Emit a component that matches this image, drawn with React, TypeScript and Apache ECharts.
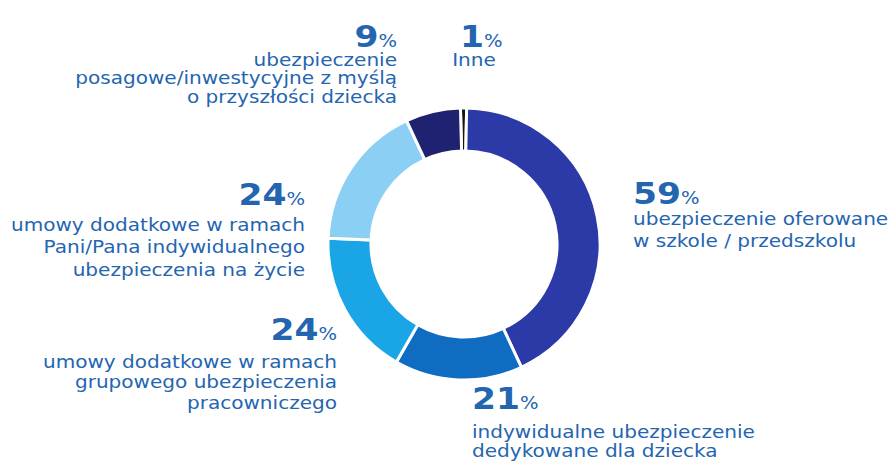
import React, { useEffect, useRef } from "react";
import * as echarts from "echarts";

const categories = [
  "Inne",
  "ubezpieczenie oferowane w szkole / przedszkolu",
  "indywidualne ubezpieczenie dedykowane dla dziecka",
  "umowy dodatkowe w ramach grupowego ubezpieczenia pracowniczego",
  "umowy dodatkowe w ramach Pani/Pana indywidualnego ubezpieczenia na życie",
  "ubezpieczenie posagowe/inwestycyjne z myślą o przyszłości dziecka",
];
const values = [1, 59, 21, 24, 24, 9];
const colors = ["#141414", "#2b3aa6", "#0f6cc0", "#1aa5e6", "#8bd0f4", "#1f2270"];

const labelLines: string[][] = [
  ["Inne"],
  ["ubezpieczenie oferowane", "w szkole / przedszkolu"],
  ["indywidualne ubezpieczenie", "dedykowane dla dziecka"],
  ["umowy dodatkowe w ramach", "grupowego ubezpieczenia", "pracowniczego"],
  ["umowy dodatkowe w ramach", "Pani/Pana indywidualnego", "ubezpieczenia na życie"],
  ["ubezpieczenie", "posagowe/inwestycyjne z myślą", "o przyszłości dziecka"],
];

const TEXT = "#2465b0";
const FONT = "DejaVu Sans";

export default function App() {
  const ref = useRef<HTMLDivElement>(null);
  useEffect(() => {
    if (!ref.current) return;
    const chart = echarts.init(ref.current, null, { renderer: "svg" });

    // label placement: [numX, numY, align, bodyX, bodyY, lineHeight]
    const place: [number, number, string, number, number, number][] = [
      [460, 37, "left", 474, 60, 19],
      [633, 194, "left", 633, 219, 22],
      [472, 399, "left", 472, 432, 19],
      [337, 330, "right", 337, 362, 20.5],
      [305, 195, "right", 305, 225, 22.5],
      [397, 37, "right", 397, 60, 18.5],
    ];

    const graphics: any[] = [];
    values.forEach((v, i) => {
      const [nx, ny, align, bx, by, lh] = place[i];
      graphics.push({
        type: "text",
        x: nx,
        y: ny,
        scaleX: 1.15,
        style: {
          text: `{n|${v}}{p|%}`,
          align: align,
          verticalAlign: "middle",
          rich: {
            n: { fontFamily: FONT, fontSize: 30, fontWeight: "bold", lineHeight: 22, fill: TEXT, color: TEXT },
            p: { fontFamily: FONT, fontSize: 17, lineHeight: 22, fill: TEXT, color: TEXT, padding: [8, 0, 0, 0] },
          },
        },
      });
      const isInne = i === 0;
      graphics.push({
        type: "text",
        x: bx,
        y: by - lh / 2,
        scaleX: 1.18,
        style: {
          text: labelLines[i].join("\n"),
          align: isInne ? "center" : align,
          verticalAlign: "top",
          fontFamily: FONT,
          fontSize: 17,
          lineHeight: lh,
          fill: TEXT,
        },
      });
    });

    chart.setOption({
      animation: false,
      backgroundColor: "#ffffff",
      graphic: graphics,
      series: [
        {
          type: "pie",
          center: [464, 244],
          radius: [93, 136],
          startAngle: 91.5,
          clockwise: true,
          label: { show: false },
          labelLine: { show: false },
          itemStyle: { borderColor: "#ffffff", borderWidth: 3 },
          data: values.map((v, i) => ({
            name: categories[i],
            value: v,
            itemStyle: { color: colors[i] },
          })),
        },
      ],
    });
    return () => chart.dispose();
  }, []);
  return (
    <div
      ref={ref}
      style={{ position: "fixed", left: 0, top: 0, width: 890, height: 463, background: "#fff" }}
    />
  );
}
